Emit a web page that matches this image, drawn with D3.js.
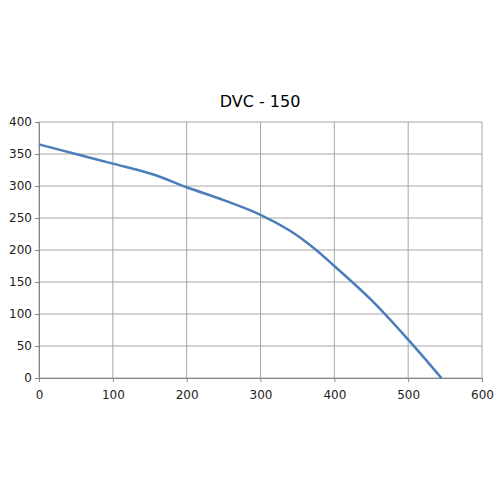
<!DOCTYPE html>
<html><head><meta charset="utf-8">
<script src="https://cdn.jsdelivr.net/npm/d3@7"></script>
<style>body{margin:0;background:#fff}</style>
</head><body>
<svg width="500" height="500"></svg>
<script>
// flow vs pressure
const flow = [0, 50, 100, 155, 200, 250, 300, 340, 370, 400, 450, 500, 545]
const pressure = [365, 350, 335, 318, 298, 278, 255, 230, 205, 175, 122, 60, 0]
const xTicks = [0, 100, 200, 300, 400, 500, 600]
const yTicks = [0, 50, 100, 150, 200, 250, 300, 350, 400]

const svg = d3.select('svg')
const x = d3.scaleLinear().domain([0, 600]).range([39, 482])
const y = d3.scaleLinear().domain([0, 400]).range([378, 122])

// grid
svg.append('g').selectAll('line').data(xTicks).join('line')
    .attr('x1', d => x(d)).attr('x2', d => x(d))
    .attr('y1', y(0)).attr('y2', y(400))
    .style('stroke', '#a6a6a6')
svg.append('g').selectAll('line').data(yTicks).join('line')
    .attr('x1', x(0)).attr('x2', x(600))
    .attr('y1', d => y(d)).attr('y2', d => y(d))
    .style('stroke', '#a6a6a6')

// axes
const xa = svg.append('g').attr('transform', `translate(0,${y(0)})`)
    .call(d3.axisBottom(x).tickValues(xTicks).tickSize(4))
const ya = svg.append('g').attr('transform', `translate(${x(0)},0)`)
    .call(d3.axisLeft(y).tickValues(yTicks).tickSize(4))
for (const a of [xa, ya]) {
    a.selectAll('path,line').style('stroke', '#868686')
    a.selectAll('text').style('font-family', 'DejaVu Sans').style('font-size', '12px').style('fill', '#222')
}
xa.selectAll('text').attr('dy', '1.2em')

// curve
svg.append('path')
    .datum(flow.map((f, i) => [f, pressure[i]]))
    .attr('d', d3.line().x(d => x(d[0])).y(d => y(d[1])).curve(d3.curveCatmullRom))
    .style('fill', 'none')
    .style('stroke', '#4a7ebb')
    .style('stroke-width', 2.5)

svg.append('text')
    .attr('x', 260).attr('y', 107)
    .attr('text-anchor', 'middle')
    .style('font-family', 'DejaVu Sans')
    .style('font-size', '16px')
    .text('DVC - 150')
</script>
</body></html>
